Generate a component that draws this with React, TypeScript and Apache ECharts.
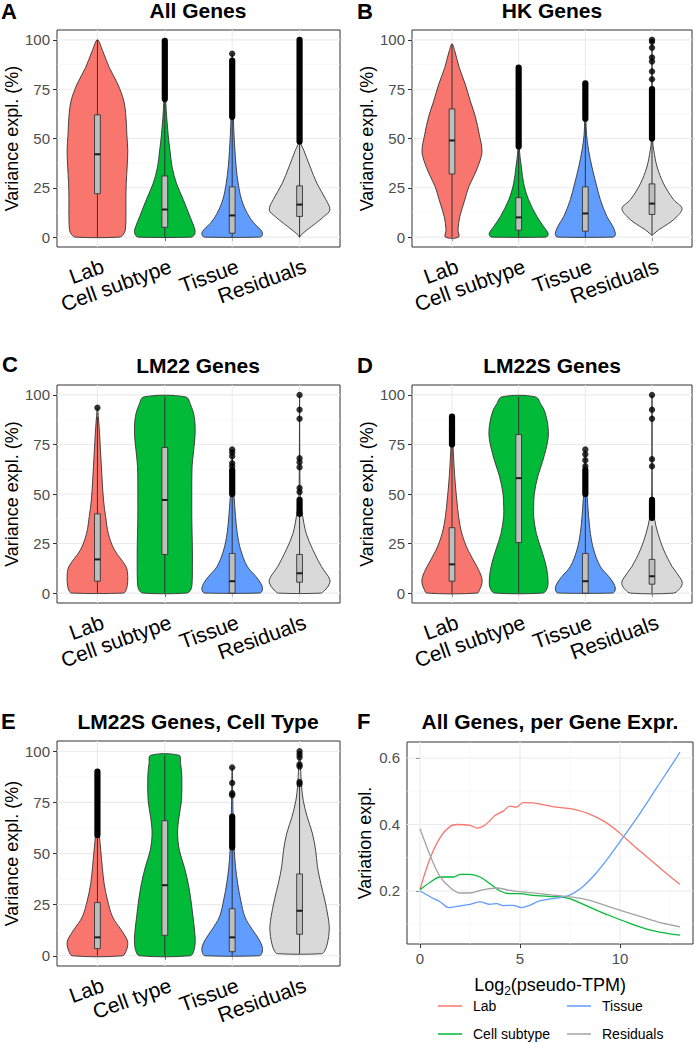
import React, { useEffect, useRef } from 'react';
import * as echarts from 'echarts';

const FONT = "'Liberation Sans', Arial, Helvetica, sans-serif";

// ---------- categories / ticks ----------
const groupLabels = ['Lab', 'Cell subtype', 'Tissue', 'Residuals'];
const groupLabelsE = ['Lab', 'Cell type', 'Tissue', 'Residuals'];
const groupPositions = [1, 2, 3, 4];
const violinColors = ['#F8766D', '#00BA38', '#619CFF', '#D9D9D9'];
const yTicks = [0, 25, 50, 75, 100];
const yMinorTicks = [12.5, 37.5, 62.5, 87.5];

// ---------- violin profiles: [value (%), relative half-width] ----------
const violinA_Lab = [[100, 0], [94.5, 0.17], [86, 0.39], [77.6, 0.67], [69, 0.87], [61, 0.94], [52, 0.97], [44, 1], [35.6, 0.98], [27, 0.95], [19, 0.94], [10.4, 0.94], [3.7, 0.92], [1.2, 0.85], [0, 0.72]];
const violinA_Cell = [[100, 0], [85, 0.01], [69, 0.03], [52, 0.11], [44, 0.17], [35.6, 0.24], [27, 0.39], [19, 0.61], [10.4, 0.83], [5.4, 0.96], [2.9, 1], [0.8, 0.96], [0, 0.86]];
const violinA_Tissue = [[93, 0], [75, 0.02], [60, 0.04], [52, 0.06], [44, 0.09], [35.6, 0.13], [27, 0.2], [19, 0.31], [12, 0.5], [7, 0.72], [3.7, 0.94], [2, 1], [0.6, 0.98], [0, 0.9]];
const violinA_Res = [[100, 0], [70, 0.01], [48, 0.04], [44, 0.14], [35.6, 0.35], [27, 0.58], [19, 0.87], [13.8, 1], [10.4, 0.8], [7, 0.53], [3.7, 0.25], [1.2, 0.06], [0, 0]];

const violinB_Lab = [[98, 0], [94.5, 0.09], [86, 0.24], [77.6, 0.44], [69, 0.61], [61, 0.78], [52, 0.91], [44, 1], [39, 0.94], [32, 0.76], [25.5, 0.56], [19, 0.43], [10.4, 0.26], [3.7, 0.2], [0, 0.22]];
const violinB_Cell = [[86, 0], [60, 0.01], [45, 0.02], [35.6, 0.09], [27, 0.17], [19, 0.33], [10.4, 0.61], [5.4, 0.83], [2, 0.98], [0.5, 0.96], [0, 0.88]];
const violinB_Tissue = [[78, 0], [60, 0.02], [52, 0.04], [44, 0.11], [35.6, 0.22], [27, 0.36], [19, 0.5], [10.4, 0.72], [5.4, 0.92], [2, 1], [0.5, 0.98], [0, 0.9]];
const violinB_Res = [[100, 0], [70, 0.01], [49, 0.02], [44, 0.06], [35.6, 0.17], [27, 0.39], [19, 0.72], [14.6, 1], [10.4, 0.83], [7, 0.56], [3.7, 0.22], [1.5, 0.05], [1, 0]];

const violinC_Lab = [[93.5, 0], [89, 0.03], [80.5, 0.07], [64, 0.13], [47, 0.2], [38.6, 0.27], [30, 0.36], [21.8, 0.56], [13.4, 0.94], [8.4, 1], [3.4, 0.98], [1, 0.93], [0, 0.86]];
const violinC_Cell = [[99, 0.69], [95, 0.85], [89, 0.97], [80.5, 1], [72, 0.95], [64, 0.9], [55, 0.89], [47, 0.89], [38.6, 0.89], [30, 0.9], [21.8, 0.91], [13.4, 0.91], [5, 0.9], [1.5, 0.85], [0, 0.72]];
const violinC_Tissue = [[72, 0], [67, 0.01], [55, 0.03], [47, 0.07], [38.6, 0.11], [30, 0.17], [21.8, 0.28], [13.4, 0.5], [8.4, 0.78], [5, 0.94], [2.5, 1], [0.6, 0.97], [0, 0.9]];
const violinC_Res = [[100, 0], [60, 0.01], [47, 0.03], [40, 0.09], [30, 0.22], [21.8, 0.44], [13.4, 0.72], [6.7, 1], [3.4, 0.94], [1, 0.8], [0, 0.7]];

const violinD_Lab = [[89, 0], [75.5, 0.03], [64, 0.07], [55, 0.11], [47, 0.16], [38.6, 0.22], [30, 0.33], [21.8, 0.53], [13.4, 0.83], [8.4, 0.98], [5, 1], [1.7, 0.92], [0, 0.84]];
const violinD_Cell = [[99, 0.56], [95, 0.75], [92, 0.86], [85, 0.97], [78, 0.98], [67, 0.81], [59, 0.64], [50, 0.52], [43.6, 0.5], [38.6, 0.5], [30, 0.59], [21.8, 0.76], [13.4, 0.92], [5, 0.98], [1.5, 0.92], [0, 0.8]];
const violinD_Tissue = [[72, 0], [67, 0.01], [55, 0.03], [47, 0.07], [38.6, 0.11], [30, 0.17], [21.8, 0.28], [13.4, 0.5], [8.4, 0.78], [5, 0.94], [2.5, 1], [0.6, 0.97], [0, 0.9]];
const violinD_Res = [[100, 0], [50, 0.01], [38.6, 0.07], [30, 0.2], [21.8, 0.39], [13.4, 0.67], [6.7, 0.98], [4.2, 1], [1.7, 0.89], [0, 0.72]];

const violinE_Lab = [[90, 0], [76, 0.02], [60, 0.06], [51.6, 0.11], [43.5, 0.16], [35.4, 0.22], [27.3, 0.33], [19, 0.5], [12.7, 0.78], [7.8, 0.98], [5.4, 1], [2.1, 0.94], [0, 0.83]];
const violinE_Cell = [[98, 0.47], [94, 0.52], [88, 0.56], [76, 0.55], [68, 0.47], [60, 0.42], [51.6, 0.48], [43.5, 0.64], [35.4, 0.77], [27.3, 0.86], [19, 0.93], [11, 0.99], [6.2, 1], [2.1, 0.95], [0, 0.84]];
const violinE_Tissue = [[92, 0], [68, 0.03], [51.6, 0.07], [43.5, 0.11], [35.4, 0.18], [27.3, 0.28], [19, 0.42], [12.7, 0.67], [7.8, 0.89], [3.7, 1], [1, 0.97], [0, 0.9]];
const violinE_Res = [[100, 0], [84, 0.06], [76, 0.12], [68, 0.25], [60, 0.42], [51.6, 0.53], [43.5, 0.59], [35.4, 0.7], [27.3, 0.83], [19, 0.94], [12.7, 0.98], [6.2, 0.92], [2.1, 0.82], [1, 0.72]];

// ---------- boxplots: [lower whisker, Q1, median, Q3, upper whisker] ----------
const boxesA = [[0, 22, 42, 62, 100], [0, 5, 14, 31, 69], [0, 2, 11, 25.5, 60], [0, 10.5, 16.5, 26, 48]];
const boxesB = [[0, 32, 49, 65, 98], [0, 3.5, 10, 20, 45], [0, 3, 12, 25.5, 58], [1, 11.5, 17, 27, 49]];
const boxesC = [[0, 6, 17, 40, 89], [0, 19.5, 47, 73.5, 99], [0, 0, 6, 20, 49], [0, 5.5, 10, 19.5, 40]];
const boxesD = [[0, 6, 14.5, 33, 75], [0, 25.5, 58, 80, 99], [0, 0, 6, 20, 49], [0, 4.5, 8.5, 17, 34]];
const boxesE = [[0, 3.5, 9, 26, 59], [0, 10, 34.5, 66, 98], [0, 2, 9, 23, 53], [1, 10.5, 22, 40, 84]];

// ---------- outliers: dense runs [group, from, to] and single points [group, value] ----------
const outlierRunsA = [[2, 70, 99.5], [3, 61, 89.5], [4, 48.5, 100]];
const outlierPointsA = [[3, 93]];
const outlierRunsB = [[2, 46, 86], [3, 60, 78], [4, 50, 75]];
const outlierPointsB = [[4, 80], [4, 84], [4, 89], [4, 91], [4, 96], [4, 99], [4, 100]];
const outlierRunsC = [[3, 50, 62], [4, 40, 47]];
const outlierPointsC = [[1, 93.5], [3, 64], [3, 65.5], [3, 69], [3, 71], [3, 72.5], [4, 100], [4, 92.5], [4, 88], [4, 68], [4, 66], [4, 63.5], [4, 53], [4, 51]];
const outlierRunsD = [[1, 75, 89], [3, 50, 62], [4, 38, 47]];
const outlierPointsD = [[1, 82], [3, 64], [3, 67], [3, 70], [3, 72.5], [4, 100], [4, 92.5], [4, 88], [4, 67.5], [4, 64]];
const outlierRunsE = [[1, 59, 90], [3, 53, 68]];
const outlierPointsE = [[3, 92], [3, 84.5], [3, 79.5], [3, 78.5], [4, 100], [4, 98.5], [4, 97], [4, 93.5], [4, 92.5], [4, 85], [4, 84]];

// ---------- panel F: smoothed variance explained vs. expression ----------
const fSeriesNames = ['Lab', 'Cell subtype', 'Tissue', 'Residuals'];
const fColors = ['#F8766D', '#00BA38', '#619CFF', '#A3A3A3'];
const lineF_Lab = [[0, 0.205], [0.53, 0.302], [1.02, 0.362], [1.52, 0.395], [1.85, 0.4], [2.51, 0.397], [2.84, 0.389], [3.17, 0.395], [3.5, 0.412], [3.75, 0.427], [4.16, 0.44], [4.49, 0.455], [4.82, 0.452], [5.15, 0.466], [5.65, 0.465], [6.14, 0.46], [6.8, 0.452], [7.6, 0.447], [8.45, 0.432], [9.27, 0.407], [9.93, 0.377], [10.76, 0.332], [11.75, 0.282], [12.74, 0.232], [13, 0.22]];
const lineF_Cell = [[0, 0.204], [0.53, 0.227], [1.02, 0.242], [1.68, 0.242], [2.01, 0.25], [2.51, 0.25], [3.0, 0.242], [3.5, 0.222], [4.0, 0.2], [4.49, 0.192], [4.98, 0.192], [5.65, 0.187], [6.47, 0.184], [7.46, 0.177], [8.45, 0.152], [9.44, 0.127], [10.43, 0.104], [11.42, 0.084], [12.41, 0.072], [13, 0.067]];
const lineF_Tissue = [[0, 0.2], [0.53, 0.182], [1.02, 0.167], [1.43, 0.15], [1.85, 0.154], [2.51, 0.16], [3.0, 0.167], [3.5, 0.16], [3.83, 0.162], [4.16, 0.156], [4.65, 0.157], [5.06, 0.15], [5.48, 0.157], [5.97, 0.17], [6.63, 0.177], [7.46, 0.187], [8.12, 0.212], [8.78, 0.252], [9.44, 0.302], [10.1, 0.357], [10.76, 0.412], [11.42, 0.472], [12.08, 0.533], [12.74, 0.593], [13, 0.618]];
const lineF_Res = [[0, 0.387], [0.28, 0.342], [0.61, 0.292], [1.02, 0.242], [1.52, 0.21], [2.01, 0.194], [2.51, 0.194], [3.17, 0.204], [3.83, 0.209], [4.49, 0.202], [5.48, 0.195], [6.8, 0.187], [8.12, 0.177], [9.11, 0.16], [10.1, 0.14], [11.09, 0.122], [12.08, 0.104], [13, 0.092]];
const fXTicks = [0, 5, 10];
const fXMinor = [2.5, 7.5, 12.5];
const fYTicks = [0.2, 0.4, 0.6];
const fYMinor = [0.1, 0.3, 0.5];

const panels = [
  { letter: 'A', title: 'All Genes', labels: groupLabels, violins: [violinA_Lab, violinA_Cell, violinA_Tissue, violinA_Res], boxes: boxesA, runs: outlierRunsA, points: outlierPointsA },
  { letter: 'B', title: 'HK Genes', labels: groupLabels, violins: [violinB_Lab, violinB_Cell, violinB_Tissue, violinB_Res], boxes: boxesB, runs: outlierRunsB, points: outlierPointsB },
  { letter: 'C', title: 'LM22 Genes', labels: groupLabels, violins: [violinC_Lab, violinC_Cell, violinC_Tissue, violinC_Res], boxes: boxesC, runs: outlierRunsC, points: outlierPointsC },
  { letter: 'D', title: 'LM22S Genes', labels: groupLabels, violins: [violinD_Lab, violinD_Cell, violinD_Tissue, violinD_Res], boxes: boxesD, runs: outlierRunsD, points: outlierPointsD },
  { letter: 'E', title: 'LM22S Genes, Cell Type', labels: groupLabelsE, violins: [violinE_Lab, violinE_Cell, violinE_Tissue, violinE_Res], boxes: boxesE, runs: outlierRunsE, points: outlierPointsE },
];
const panelF = { letter: 'F', title: 'All Genes, per Gene Expr.' };

// ---------- layout (pixels) ----------
const gridBoxes = [
  { left: 57, top: 30, width: 283, height: 217 },
  { left: 412, top: 30, width: 280, height: 217 },
  { left: 57, top: 385, width: 283, height: 218 },
  { left: 412, top: 385, width: 280, height: 218 },
  { left: 57, top: 741, width: 283, height: 225 },
  { left: 407, top: 742, width: 286, height: 202 },
];
const titlePos = [[198, 10], [552, 10], [198, 365], [552, 365], [198, 721], [550, 721]];
const letterPos = [[1, 11], [357, 11], [2, 364], [357, 365], [1, 721], [357, 721]];
const legendPos = [[438, 997], [438, 1025], [567, 997], [567, 1025]];

const GRID_MAJOR = '#EBEBEB';
const GRID_MINOR = '#F3F3F3';
const INK = '#333333';

function gridRender(params: any, api: any) {
  const cs = params.coordSys;
  const v = api.value(0);
  const kind = api.value(1);
  const major = kind === 0 || kind === 2;
  const style = { stroke: major ? GRID_MAJOR : GRID_MINOR, lineWidth: major ? 1.1 : 0.6 };
  if (kind < 2) {
    const y = api.coord([api.value(2), v])[1];
    return { type: 'line', shape: { x1: cs.x, y1: y, x2: cs.x + cs.width, y2: y }, style };
  }
  const x = api.coord([v, api.value(2)])[0];
  return { type: 'line', shape: { x1: x, y1: cs.y, x2: x, y2: cs.y + cs.height }, style };
}

function makeViolinRender(profiles: number[][][]) {
  return (params: any, api: any) => {
    const xPos = api.value(0);
    const prof = profiles[params.dataIndex];
    const band = api.size([1, 0])[0];
    const cx = api.coord([xPos, 0])[0];
    const pts: number[][] = [];
    const push = (p: number[]) => {
      const last = pts[pts.length - 1];
      if (!last || Math.abs(last[0] - p[0]) > 0.01 || Math.abs(last[1] - p[1]) > 0.01) pts.push(p);
    };
    prof.forEach(([v, w]) => push([cx - w * 0.45 * band, api.coord([xPos, v])[1]]));
    prof.slice().reverse().forEach(([v, w]) => push([cx + w * 0.45 * band, api.coord([xPos, v])[1]]));
    const first = pts[0];
    const last = pts[pts.length - 1];
    if (Math.abs(first[0] - last[0]) < 0.01 && Math.abs(first[1] - last[1]) < 0.01) pts.pop();
    return {
      type: 'polygon',
      shape: { points: pts, smooth: 0.35 },
      style: { fill: violinColors[params.dataIndex], stroke: INK, lineWidth: 0.9 },
    };
  };
}

function boxRender(params: any, api: any) {
  const x = api.value(0);
  const lo = api.coord([x, api.value(1)]);
  const q1 = api.coord([x, api.value(2)]);
  const med = api.coord([x, api.value(3)]);
  const q3 = api.coord([x, api.value(4)]);
  const hi = api.coord([x, api.value(5)]);
  const half = api.size([1, 0])[0] * 0.043;
  return {
    type: 'group',
    children: [
      { type: 'line', shape: { x1: lo[0], y1: lo[1], x2: hi[0], y2: hi[1] }, style: { stroke: INK, lineWidth: 1 } },
      { type: 'rect', shape: { x: q3[0] - half, y: q3[1], width: 2 * half, height: Math.max(q1[1] - q3[1], 0.5) }, style: { fill: '#BEBEBE', stroke: INK, lineWidth: 0.9 } },
      { type: 'line', shape: { x1: med[0] - half, y1: med[1], x2: med[0] + half, y2: med[1] }, style: { stroke: '#1A1A1A', lineWidth: 2 } },
    ],
  };
}

function runRender(params: any, api: any) {
  const x = api.value(0);
  const a = api.coord([x, api.value(1)]);
  const b = api.coord([x, api.value(2)]);
  return { type: 'line', shape: { x1: a[0], y1: a[1], x2: b[0], y2: b[1] }, style: { stroke: '#000', lineWidth: 6.2, lineCap: 'round' } };
}

function buildOption() {
  const grid: any[] = [];
  const xAxis: any[] = [];
  const yAxis: any[] = [];
  const series: any[] = [];
  const graphic: any[] = [];

  panels.forEach((p, i) => {
    grid.push({ ...gridBoxes[i], show: true, borderColor: INK, borderWidth: 1, backgroundColor: 'transparent', containLabel: false });
    xAxis.push({
      gridIndex: i, type: 'value', min: 0.4, max: 4.6,
      axisLine: { show: false },
      axisTick: { show: true, customValues: groupPositions, length: 4, lineStyle: { color: INK, width: 1 } },
      axisLabel: {
        customValues: groupPositions,
        formatter: (v: number) => p.labels[Math.round(v) - 1],
        rotate: 20, fontSize: 21, color: '#000', fontFamily: FONT,
        align: 'right', verticalAlign: 'top', margin: 9, padding: [0, -2, 0, 0],
      },
      splitLine: { show: false },
    });
    yAxis.push({
      gridIndex: i, type: 'value', min: -5, max: 105,
      name: 'Variance expl. (%)', nameLocation: 'middle', nameGap: 36,
      nameTextStyle: { fontSize: 18, color: '#000', fontFamily: FONT },
      axisLine: { show: false },
      axisTick: { show: true, customValues: yTicks, length: 4, lineStyle: { color: INK, width: 1 } },
      axisLabel: { customValues: yTicks, fontSize: 15, color: '#4D4D4D', fontFamily: FONT, margin: 7 },
      splitLine: { show: false },
    });
    const gridData: number[][] = [];
    yTicks.forEach((v) => gridData.push([v, 0, 1]));
    yMinorTicks.forEach((v) => gridData.push([v, 1, 1]));
    groupPositions.forEach((v) => gridData.push([v, 2, 50]));
    series.push({ type: 'custom', name: `grid${p.letter}`, xAxisIndex: i, yAxisIndex: i, z: 1, silent: true, renderItem: gridRender, data: gridData });
    series.push({ type: 'custom', name: `violin${p.letter}`, xAxisIndex: i, yAxisIndex: i, z: 2, silent: true, renderItem: makeViolinRender(p.violins), data: groupPositions.map((g) => [g, 50]) });
    series.push({ type: 'custom', name: `box${p.letter}`, xAxisIndex: i, yAxisIndex: i, z: 3, silent: true, renderItem: boxRender, data: p.boxes.map((b, k) => [groupPositions[k], ...b]) });
    series.push({ type: 'custom', name: `runs${p.letter}`, xAxisIndex: i, yAxisIndex: i, z: 4, silent: true, renderItem: runRender, data: p.runs });
    series.push({ type: 'scatter', name: `pts${p.letter}`, xAxisIndex: i, yAxisIndex: i, z: 5, silent: true, symbolSize: 6.4, itemStyle: { color: '#000' }, data: p.points });
  });

  // Panel F
  const fi = 5;
  grid.push({ ...gridBoxes[fi], show: true, borderColor: INK, borderWidth: 1, backgroundColor: 'transparent' });
  xAxis.push({
    gridIndex: fi, type: 'value', min: -0.65, max: 13.65,
    name: '{a|Log}{s|2}{a|(pseudo-TPM)}', nameLocation: 'middle', nameGap: 26,
    nameTextStyle: {
      fontFamily: FONT, color: '#000',
      rich: {
        a: { fontSize: 18, fontFamily: FONT, color: '#000', lineHeight: 24, verticalAlign: 'bottom' },
        s: { fontSize: 12, fontFamily: FONT, color: '#000', lineHeight: 12, verticalAlign: 'bottom', padding: [0, 0, -3, 0] },
      },
    },
    axisLine: { show: false },
    axisTick: { show: true, customValues: fXTicks, length: 4, lineStyle: { color: INK, width: 1 } },
    axisLabel: { customValues: fXTicks, fontSize: 15, color: '#4D4D4D', fontFamily: FONT, margin: 7 },
    splitLine: { show: false },
  });
  yAxis.push({
    gridIndex: fi, type: 'value', min: 0.0406, max: 0.648,
    name: 'Variation expl.', nameLocation: 'middle', nameGap: 33,
    nameTextStyle: { fontSize: 18, color: '#000', fontFamily: FONT },
    axisLine: { show: false },
    axisTick: { show: true, customValues: fYTicks, length: 4, lineStyle: { color: INK, width: 1 } },
    axisLabel: { customValues: fYTicks, fontSize: 15, color: '#4D4D4D', fontFamily: FONT, margin: 7, formatter: (v: number) => v.toFixed(1) },
    splitLine: { show: false },
  });
  const fGrid: number[][] = [];
  fYTicks.forEach((v) => fGrid.push([v, 0, 5]));
  fYMinor.forEach((v) => fGrid.push([v, 1, 5]));
  fXTicks.forEach((v) => fGrid.push([v, 2, 0.3]));
  fXMinor.forEach((v) => fGrid.push([v, 3, 0.3]));
  series.push({ type: 'custom', name: 'gridF', xAxisIndex: fi, yAxisIndex: fi, z: 1, silent: true, renderItem: gridRender, data: fGrid });
  [lineF_Lab, lineF_Cell, lineF_Tissue, lineF_Res].forEach((d, k) => {
    series.push({
      type: 'line', name: fSeriesNames[k], xAxisIndex: fi, yAxisIndex: fi, z: 3,
      data: d, showSymbol: false, symbol: 'none', smooth: 0.35,
      lineStyle: { color: fColors[k], width: 1.3 }, itemStyle: { color: fColors[k] },
    });
  });

  // titles and panel letters
  [...panels, panelF].forEach((p, i) => {
    graphic.push({ type: 'text', x: titlePos[i][0], y: titlePos[i][1], style: { text: p.title, font: `bold 21px ${FONT}`, fill: '#000', textAlign: 'center', textVerticalAlign: 'middle' } });
    graphic.push({ type: 'text', x: letterPos[i][0], y: letterPos[i][1], style: { text: p.letter, font: `bold 22px ${FONT}`, fill: '#000', textAlign: 'left', textVerticalAlign: 'middle' } });
  });

  const legend = fSeriesNames.map((name, k) => ({
    data: [{ name, icon: 'rect' }],
    left: legendPos[k][0], top: legendPos[k][1],
    orient: 'horizontal', itemWidth: 24, itemHeight: 1.5, padding: 0,
    textStyle: { fontSize: 14, color: '#000', fontFamily: FONT, padding: [0, 0, 0, 6], lineHeight: 18 },
  }));

  return {
    animation: false,
    backgroundColor: '#FFFFFF',
    textStyle: { fontFamily: FONT },
    grid, xAxis, yAxis, series, graphic, legend,
  };
}

export default function App() {
  const ref = useRef<HTMLDivElement>(null);
  useEffect(() => {
    if (!ref.current) return;
    const chart = echarts.init(ref.current, undefined, { renderer: 'svg' });
    chart.setOption(buildOption() as any);
    return () => chart.dispose();
  }, []);
  return <div ref={ref} style={{ position: 'absolute', left: 0, top: 0, width: 695, height: 1043 }} />;
}
